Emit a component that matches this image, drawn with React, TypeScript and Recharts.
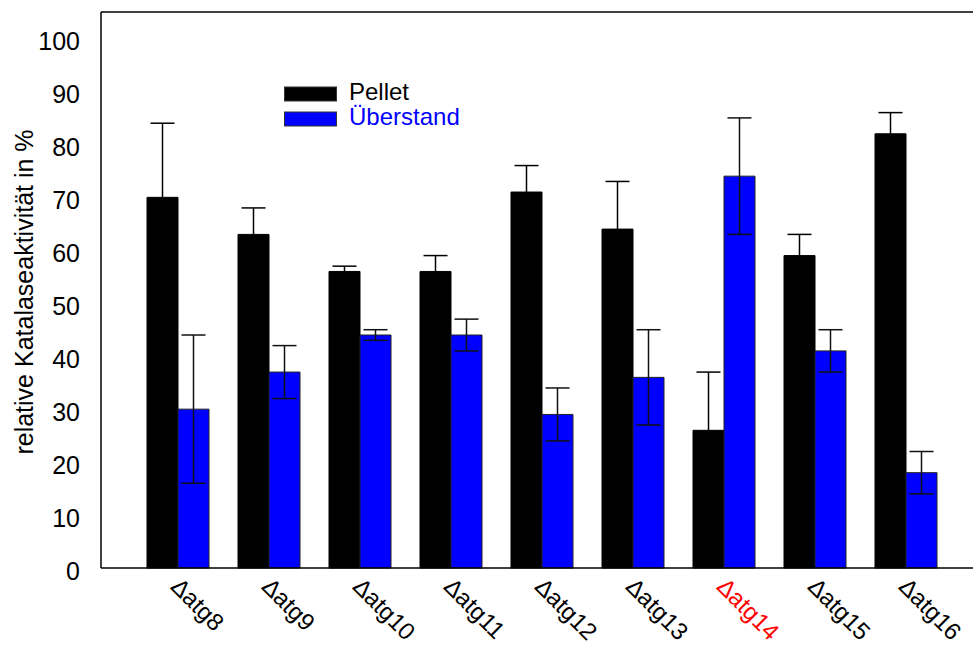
import React from "react";
import {
  Bar,
  BarChart,
  ErrorBar,
  Legend,
  ReferenceLine,
  XAxis,
  YAxis,
} from "recharts";

const strains = ["Δatg8", "Δatg9", "Δatg10", "Δatg11", "Δatg12", "Δatg13", "Δatg14", "Δatg15", "Δatg16"];
const pellet = [70, 63, 56, 56, 71, 64, 26, 59, 82];
const pelletErr = [14, 5, 1, 3, 5, 9, 11, 4, 4];
const ueberstand = [30, 37, 44, 44, 29, 36, 74, 41, 18];
const ueberstandErr = [14, 5, 1, 3, 5, 9, 11, 4, 4];
const yTicks = [0, 10, 20, 30, 40, 50, 60, 70, 80, 90, 100];
const highlighted = ["Δatg14"];

const data = strains.map((name, i) => ({
  name,
  pellet: pellet[i],
  pelletErr: pelletErr[i],
  ueberstand: ueberstand[i],
  ueberstandErr: ueberstandErr[i],
}));

const font = "'Liberation Sans', Arial, Helvetica, sans-serif";

function StrainTick(props: any) {
  const { x, y, payload } = props;
  const red = highlighted.includes(payload.value);
  const tx = x - 8;
  const ty = y + 20;
  return (
    <text
      x={tx}
      y={ty}
      transform={`rotate(45 ${tx} ${ty})`}
      textAnchor="start"
      fontSize={24}
      fontFamily={font}
      fill={red ? "#ff0000" : "#000"}
    >
      {payload.value}
    </text>
  );
}

function LegendBox() {
  return (
    <svg width={220} height={60} style={{ display: "block", overflow: "visible" }}>
      <rect x={0.5} y={3} width={52} height={14} fill="#000" stroke="#333" />
      <text x={65} y={16} fontSize={24} fontFamily={font} fill="#000">
        Pellet
      </text>
      <rect x={0.5} y={28} width={52} height={14} fill="#0000ff" stroke="#333" />
      <text x={65} y={41} fontSize={24} fontFamily={font} fill="#0000ff">
        Überstand
      </text>
    </svg>
  );
}

export default function App() {
  return (
    <div
      style={{
        position: "absolute",
        left: 0,
        top: 0,
        width: 973,
        height: 650,
        overflow: "hidden",
        background: "#fff",
      }}
    >
      <BarChart
        width={990}
        height={650}
        data={data}
        margin={{ top: 12, right: 8, left: 0, bottom: 0 }}
        barSize={31}
        barGap={0}
      >
        <XAxis
          dataKey="name"
          height={82}
          padding={{ left: 31, right: 31 }}
          tickLine={false}
          tickSize={0}
          tickMargin={0}
          interval={0}
          axisLine={{ stroke: "#000", strokeWidth: 1.5 }}
          tick={<StrainTick />}
        />
        <YAxis
          yAxisId="left"
          width={101}
          domain={[0, 105]}
          ticks={yTicks}
          tickLine={false}
          tickSize={0}
          tickMargin={21}
          axisLine={{ stroke: "#000", strokeWidth: 1.5 }}
          tick={{ fontSize: 25, fontFamily: font, fill: "#000", dy: 3 }}
          label={{
            value: "relative Katalaseaktivität in %",
            angle: -90,
            position: "center",
            dx: -26,
            dy: 2,
            fontSize: 25,
            fontFamily: font,
            fill: "#000",
          }}
        />
        {/* inward tick marks on both sides */}
        <YAxis
          yAxisId="leftTicks"
          mirror
          width={40}
          domain={[0, 105]}
          ticks={yTicks}
          tickSize={12}
          axisLine={false}
          tickLine={{ stroke: "#000", strokeWidth: 1.5 }}
          tick={() => <g />}
        />
        <YAxis
          yAxisId="right"
          orientation="right"
          mirror
          width={40}
          domain={[0, 105]}
          ticks={yTicks}
          tickSize={12}
          axisLine={{ stroke: "#000", strokeWidth: 1.5 }}
          tickLine={{ stroke: "#000", strokeWidth: 1.5 }}
          tick={() => <g />}
        />
        <ReferenceLine yAxisId="left" y={105} stroke="#000" strokeWidth={1.5} />
        <Legend
          layout="horizontal"
          verticalAlign="middle"
          align="center"
          wrapperStyle={{ left: 284, top: 84, width: 220 }}
          content={() => <LegendBox />}
        />
        <Bar
          yAxisId="left"
          dataKey="pellet"
          name="Pellet"
          fill="#000"
          stroke="#000"
          strokeWidth={1}
          isAnimationActive={false}
        >
          <ErrorBar dataKey="pelletErr" width={12} stroke="#000" strokeWidth={1.5} direction="y" />
        </Bar>
        <Bar
          yAxisId="left"
          dataKey="ueberstand"
          name="Überstand"
          fill="#0000ff"
          stroke="#222"
          strokeWidth={1}
          isAnimationActive={false}
        >
          <ErrorBar dataKey="ueberstandErr" width={12} stroke="#111" strokeWidth={1.5} direction="y" />
        </Bar>
      </BarChart>
    </div>
  );
}
